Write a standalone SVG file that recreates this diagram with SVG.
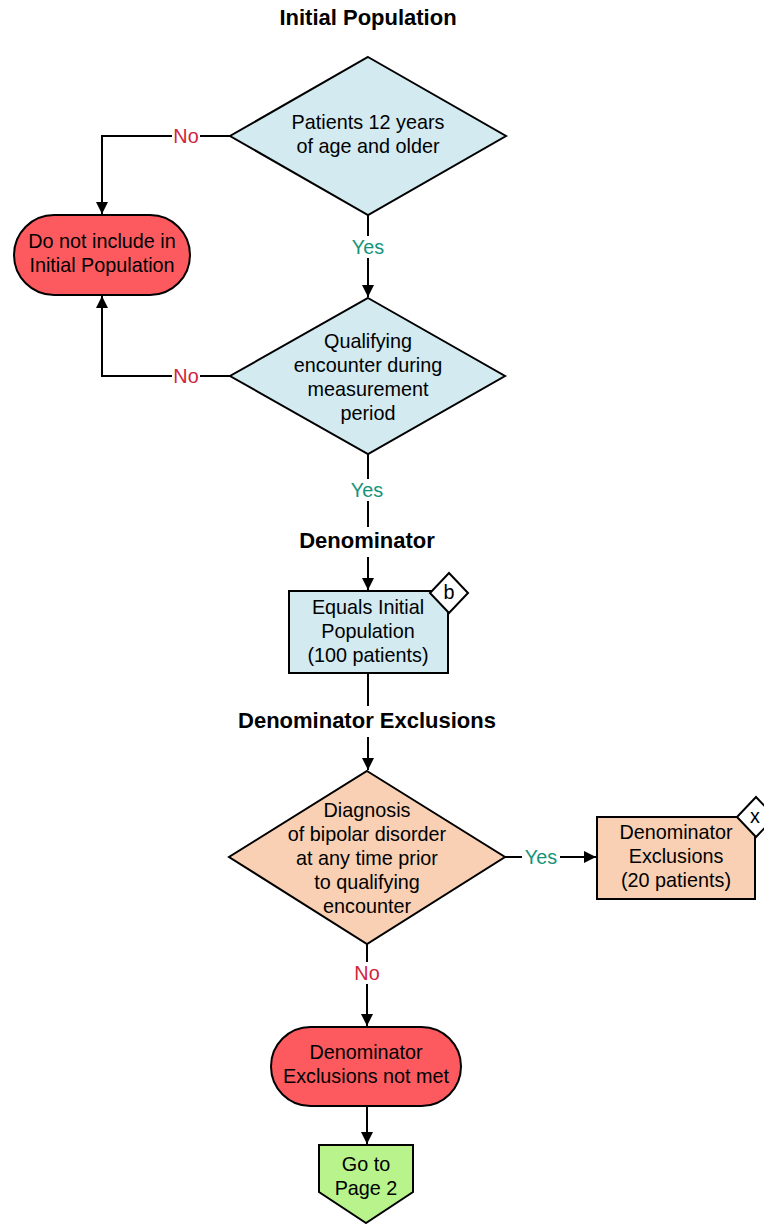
<svg xmlns="http://www.w3.org/2000/svg" width="764" height="1224" viewBox="0 0 764 1224">
<defs>
<style>
.t{font-family:"Liberation Sans",Arial,sans-serif;font-size:19.8px;fill:#000;text-anchor:middle}
.h{font-family:"Liberation Sans",Arial,sans-serif;font-size:22px;font-weight:bold;fill:#000;text-anchor:middle}
.yes{fill:#14937b}
.no{fill:#d0243c}
.s{stroke:#000;stroke-width:2}
.c{fill:none;stroke:#000;stroke-width:2}
.blue{fill:#d2eaf0}
.red{fill:#fd5a5f}
.peach{fill:#f9d0b3}
.green{fill:#b8f48b}
</style>
<marker id="arr" viewBox="0 0 12 12" refX="12" refY="6" markerWidth="12" markerHeight="12" markerUnits="userSpaceOnUse" orient="auto">
<path d="M0 0L12 6L0 12z" fill="#000"/>
</marker>
</defs>
<rect width="764" height="1224" fill="#fff"/>
<text class="h" x="368" y="25">Initial Population</text>
<text class="h" x="367" y="548">Denominator</text>
<text class="h" x="367" y="728">Denominator Exclusions</text>
<g id="connectors">
<path class="c" d="M230 136H102V214" marker-end="url(#arr)"/>
<path class="c" d="M368 215V297" marker-end="url(#arr)"/>
<path class="c" d="M230 376H102V296" marker-end="url(#arr)"/>
<path class="c" d="M368 454V527"/>
<path class="c" d="M368 557V590" marker-end="url(#arr)"/>
<path class="c" d="M368 673V706"/>
<path class="c" d="M368 737V770" marker-end="url(#arr)"/>
<path class="c" d="M505 857H596" marker-end="url(#arr)"/>
<path class="c" d="M367 944V1026" marker-end="url(#arr)"/>
<path class="c" d="M367 1106V1144" marker-end="url(#arr)"/>
<rect x="172" y="126" width="28" height="20" fill="#fff"/>
<text class="t no" x="186" y="143">No</text>
<rect x="349" y="236" width="38" height="22" fill="#fff"/>
<text class="t yes" x="368" y="254">Yes</text>
<rect x="172" y="366" width="28" height="20" fill="#fff"/>
<text class="t no" x="186" y="383">No</text>
<rect x="348" y="479" width="38" height="22" fill="#fff"/>
<text class="t yes" x="367" y="497">Yes</text>
<rect x="522" y="847" width="38" height="20" fill="#fff"/>
<text class="t yes" x="541" y="864">Yes</text>
<rect x="352" y="962" width="30" height="22" fill="#fff"/>
<text class="t no" x="367" y="980">No</text>
</g>
<g id="d1">
<path class="blue s" d="M368 57L506 136L368 215L230 136z"/>
<text class="t" x="368" y="129">Patients 12 years</text>
<text class="t" x="368" y="153">of age and older</text>
</g>
<g id="term1">
<rect class="red s" x="14" y="215" width="176" height="80" rx="40" ry="40"/>
<text class="t" x="102" y="248">Do not include in</text>
<text class="t" x="102" y="272">Initial Population</text>
</g>
<g id="d2">
<path class="blue s" d="M368 298L505 376L368 454L230 376z"/>
<text class="t" x="368" y="348">Qualifying</text>
<text class="t" x="368" y="372">encounter during</text>
<text class="t" x="368" y="396">measurement</text>
<text class="t" x="368" y="420">period</text>
</g>
<g id="r1">
<rect class="blue s" x="289" y="591" width="159" height="82"/>
<path d="M449 573L468 593L449 613L430 593z" fill="#fff" class="s"/>
<text class="t" x="449" y="599">b</text>
<text class="t" x="368" y="614">Equals Initial</text>
<text class="t" x="368" y="638">Population</text>
<text class="t" x="368" y="662">(100 patients)</text>
</g>
<g id="d3">
<path class="peach s" d="M367 771L505 857L367 944L229 857z"/>
<text class="t" x="367" y="817">Diagnosis</text>
<text class="t" x="367" y="841">of bipolar disorder</text>
<text class="t" x="367" y="865">at any time prior</text>
<text class="t" x="367" y="889">to qualifying</text>
<text class="t" x="367" y="913">encounter</text>
</g>
<g id="r2">
<rect class="peach s" x="597" y="817" width="158" height="82"/>
<path d="M756 797L775 817L756 837L737 817z" fill="#fff" class="s"/>
<text class="t" x="755" y="823">x</text>
<text class="t" x="676" y="839">Denominator</text>
<text class="t" x="676" y="863">Exclusions</text>
<text class="t" x="676" y="887">(20 patients)</text>
</g>
<g id="term2">
<rect class="red s" x="271" y="1027" width="190" height="79" rx="39.5" ry="39.5"/>
<text class="t" x="366" y="1059">Denominator</text>
<text class="t" x="366" y="1083">Exclusions not met</text>
</g>
<g id="page2">
<path class="green s" d="M319 1145H413V1192L366 1223L319 1192z"/>
<text class="t" x="366" y="1171">Go to</text>
<text class="t" x="366" y="1195">Page 2</text>
</g>
</svg>
